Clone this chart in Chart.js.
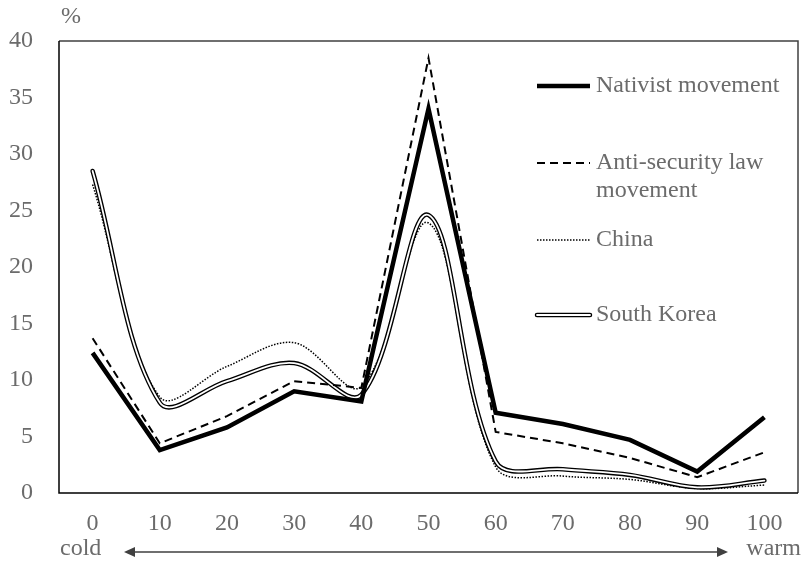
<!DOCTYPE html>
<html><head><meta charset="utf-8">
<script src="https://cdn.jsdelivr.net/npm/chart.js@4"></script>
<style>html,body{margin:0;padding:0;background:#fff}#wrap{width:803px;height:564px}</style>
</head><body><div id="wrap"><canvas id="c" width="803" height="564"></canvas></div>
<script>
const categories = ['0','10','20','30','40','50','60','70','80','90','100'];
const yTicks = [0,5,10,15,20,25,30,35,40];
const nativist = [12.4, 3.8, 5.8, 9.0, 8.1, 34.0, 7.1, 6.1, 4.7, 1.9, 6.7];
const antiSecurity = [13.7, 4.4, 6.8, 9.9, 9.3, 38.5, 5.4, 4.4, 3.1, 1.4, 3.6];
const china = [27.3, 8.5, 11.2, 13.3, 9.4, 23.9, 2.3, 1.5, 1.2, 0.4, 0.7];
const southKorea = [28.5, 8.0, 9.9, 11.5, 8.7, 24.6, 2.8, 2.1, 1.6, 0.5, 1.1];
const seriesNames = ['Nativist movement', 'Anti-security law|movement', 'China', 'South Korea'];

const FONT = '"Liberation Serif", "Times New Roman", serif';
const TEXT = '#6b6b6b';

const extras = {
  id: 'extras',
  beforeDatasetsDraw(chart) {
    const {ctx, chartArea: a} = chart;
    ctx.save();
    ctx.lineWidth = 1.5;
    ctx.strokeStyle = '#404040';
    ctx.beginPath();
    ctx.moveTo(a.left, a.top); ctx.lineTo(a.right, a.top); ctx.lineTo(a.right, a.bottom);
    ctx.stroke();
    ctx.strokeStyle = '#000';
    ctx.beginPath();
    ctx.moveTo(a.left, a.top); ctx.lineTo(a.left, a.bottom); ctx.lineTo(a.right, a.bottom);
    ctx.stroke();
    ctx.restore();
  },
  afterDraw(chart) {
    const {ctx} = chart;
    ctx.save();
    // legend
    const x0 = 537, x1 = 590, tx = 596;
    const rows = [86, 163, 240, 315];
    ctx.lineCap = 'butt';
    ctx.strokeStyle = '#000'; ctx.lineWidth = 4.5; ctx.setLineDash([]);
    ctx.beginPath(); ctx.moveTo(x0, rows[0]); ctx.lineTo(x1, rows[0]); ctx.stroke();
    ctx.lineWidth = 2; ctx.setLineDash([8,5]);
    ctx.beginPath(); ctx.moveTo(x0, rows[1]); ctx.lineTo(x1, rows[1]); ctx.stroke();
    ctx.lineWidth = 1.5; ctx.setLineDash([1.5,1.5]);
    ctx.beginPath(); ctx.moveTo(x0, rows[2]); ctx.lineTo(x1, rows[2]); ctx.stroke();
    ctx.setLineDash([]); ctx.lineCap = 'round';
    ctx.lineWidth = 4.5; ctx.strokeStyle = '#000';
    ctx.beginPath(); ctx.moveTo(x0, rows[3]); ctx.lineTo(x1, rows[3]); ctx.stroke();
    ctx.lineWidth = 1.8; ctx.strokeStyle = '#fff';
    ctx.beginPath(); ctx.moveTo(x0, rows[3]); ctx.lineTo(x1, rows[3]); ctx.stroke();

    ctx.fillStyle = TEXT;
    ctx.font = '24px ' + FONT;
    ctx.textAlign = 'left'; ctx.textBaseline = 'middle';
    seriesNames.forEach((n, i) => {
      n.split('|').forEach((line, j) => ctx.fillText(line, tx, rows[i] + j * 28));
    });

    ctx.fillText('%', 61, 17);
    ctx.fillText('cold', 60, 549);
    ctx.textAlign = 'right';
    ctx.fillText('warm', 801, 549);

    const ay = 552, ax0 = 124, ax1 = 728;
    ctx.strokeStyle = '#404040'; ctx.fillStyle = '#404040'; ctx.lineWidth = 1.5;
    ctx.beginPath(); ctx.moveTo(ax0 + 6, ay); ctx.lineTo(ax1 - 6, ay); ctx.stroke();
    ctx.beginPath(); ctx.moveTo(ax0, ay); ctx.lineTo(ax0 + 11, ay - 5); ctx.lineTo(ax0 + 11, ay + 5); ctx.closePath(); ctx.fill();
    ctx.beginPath(); ctx.moveTo(ax1, ay); ctx.lineTo(ax1 - 11, ay - 5); ctx.lineTo(ax1 - 11, ay + 5); ctx.closePath(); ctx.fill();
    ctx.restore();
  }
};

new Chart(document.getElementById('c'), {
  type: 'line',
  data: {
    labels: categories,
    datasets: [
      { label: 'Nativist movement', data: nativist, borderColor: '#000', borderWidth: 4.5, tension: 0, pointRadius: 0, borderJoinStyle: 'miter' },
      { label: 'Anti-security law movement', data: antiSecurity, borderColor: '#000', borderWidth: 2, borderDash: [8,5], tension: 0, pointRadius: 0 },
      { label: 'South Korea inner', data: southKorea, borderColor: '#fff', borderWidth: 1.8, tension: 0.35, pointRadius: 0, borderCapStyle: 'round' },
      { label: 'South Korea', data: southKorea, borderColor: '#000', borderWidth: 4.5, tension: 0.35, pointRadius: 0, borderCapStyle: 'round' },
      { label: 'China', data: china, borderColor: '#000', borderWidth: 1.5, borderDash: [1.5,1.5], tension: 0.35, pointRadius: 0 }
    ]
  },
  options: {
    responsive: false,
    animation: false,
    devicePixelRatio: 1,
    layout: { padding: { top: 41, right: 5, left: 0, bottom: 0 } },
    plugins: { legend: { display: false }, tooltip: { enabled: false } },
    scales: {
      x: {
        offset: true,
        grid: { display: false, drawTicks: false },
        border: { display: false },
        ticks: { color: TEXT, font: { family: FONT, size: 24 }, padding: 16, maxRotation: 0 },
        afterFit(s) { s.height = 71; }
      },
      y: {
        min: 0, max: 40,
        afterBuildTicks(s) { s.ticks = yTicks.map(v => ({ value: v })); },
        grid: { display: false, drawTicks: false },
        border: { display: false },
        ticks: { color: TEXT, font: { family: FONT, size: 24 }, padding: 26 },
        afterFit(s) { s.width = 59; }
      }
    }
  },
  plugins: [extras]
});
</script>
</body></html>
